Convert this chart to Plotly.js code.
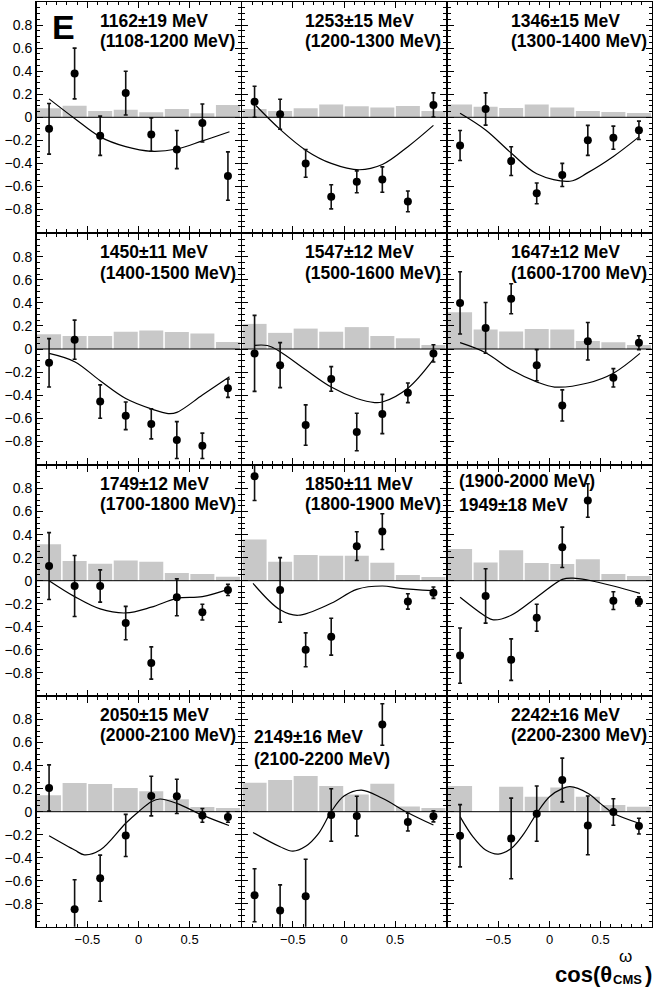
<!DOCTYPE html>
<html><head><meta charset="utf-8">
<script src="https://cdn.plot.ly/plotly-3.0.1.min.js"></script>
<style>html,body{margin:0;padding:0;background:#fff}#chart{width:654px;height:990px}</style>
</head><body><div id="chart"></div>
<script>
// ---- data ----
const cosBins = [-0.875, -0.625, -0.375, -0.125, 0.125, 0.375, 0.625, 0.875];

const massLabels = ["1162±19 MeV","1253±15 MeV","1346±15 MeV","1450±11 MeV","1547±12 MeV","1647±12 MeV",
                    "1749±12 MeV","1850±11 MeV","1949±18 MeV","2050±15 MeV","2149±16 MeV","2242±16 MeV"];
const rangeLabels = ["(1108-1200 MeV)","(1200-1300 MeV)","(1300-1400 MeV)","(1400-1500 MeV)","(1500-1600 MeV)","(1600-1700 MeV)",
                     "(1700-1800 MeV)","(1800-1900 MeV)","(1900-2000 MeV)","(2000-2100 MeV)","(2100-2200 MeV)","(2200-2300 MeV)"];

const asymE = [
  [-0.10, 0.38, -0.16, 0.21, -0.15, -0.28, -0.05, -0.51],
  [0.135, 0.026, -0.40, -0.69, -0.56, -0.54, -0.73, 0.107],
  [-0.245, 0.072, -0.38, -0.66, -0.50, -0.20, -0.177, -0.113],
  [-0.12, 0.081, -0.456, -0.58, -0.65, -0.79, -0.84, -0.34],
  [-0.038, -0.14, -0.66, -0.26, -0.72, -0.564, -0.38, -0.038],
  [0.40, 0.183, 0.436, -0.14, -0.49, 0.067, -0.25, 0.055],
  [0.127, -0.046, -0.046, -0.368, -0.714, -0.144, -0.273, -0.08],
  [0.906, -0.08, -0.60, -0.486, 0.30, 0.426, -0.18, -0.104],
  [-0.65, -0.132, -0.685, -0.322, 0.29, 0.696, -0.173, -0.18],
  [0.206, -0.846, -0.577, -0.206, 0.136, 0.133, -0.032, -0.046],
  [-0.725, -0.858, -0.733, -0.029, -0.038, 0.757, -0.09, -0.04],
  [-0.209, null, -0.232, -0.017, 0.275, -0.119, -0.003, -0.125]
];
const statErr = [
  [0.22, 0.22, 0.17, 0.19, 0.145, 0.165, 0.165, 0.21],
  [0.135, 0.13, 0.12, 0.105, 0.095, 0.11, 0.09, 0.105],
  [0.13, 0.14, 0.125, 0.09, 0.10, 0.13, 0.10, 0.08],
  [0.21, 0.17, 0.145, 0.12, 0.13, 0.16, 0.11, 0.08],
  [0.33, 0.195, 0.175, 0.107, 0.163, 0.17, 0.085, 0.075],
  [0.27, 0.22, 0.13, 0.135, 0.135, 0.163, 0.08, 0.06],
  [0.29, 0.265, 0.14, 0.145, 0.14, 0.16, 0.068, 0.048],
  [0.21, 0.28, 0.147, 0.16, 0.125, 0.155, 0.067, 0.049],
  [0.24, 0.236, 0.18, 0.117, 0.175, 0.146, 0.077, 0.04],
  [0.20, 0.256, 0.20, 0.183, 0.172, 0.148, 0.06, 0.045],
  [0.23, 0.223, 0.32, 0.228, 0.172, 0.18, 0.077, 0.048],
  [0.27, null, 0.35, 0.24, 0.19, 0.255, 0.115, 0.068]
];
const systErr = [
  [0.078, 0.10, 0.055, 0.066, 0.043, 0.072, 0.035, 0.107],
  [0.072, 0.055, 0.078, 0.11, 0.096, 0.084, 0.098, 0.055],
  [0.11, 0.092, 0.081, 0.11, 0.084, 0.055, 0.046, 0.037],
  [0.128, 0.113, 0.113, 0.15, 0.16, 0.148, 0.134, 0.061],
  [0.218, 0.14, 0.177, 0.15, 0.19, 0.113, 0.093, 0.035],
  [0.32, 0.169, 0.151, 0.174, 0.169, 0.07, 0.058, 0.035],
  [0.317, 0.17, 0.147, 0.176, 0.164, 0.066, 0.058, 0.035],
  [0.357, 0.164, 0.224, 0.216, 0.216, 0.155, 0.049, 0.032],
  [0.276, 0.158, 0.265, 0.153, 0.144, 0.187, 0.058, 0.04],
  [0.142, 0.249, 0.24, 0.206, 0.177, 0.107, 0.04, 0.032],
  [0.252, 0.275, 0.31, 0.223, 0.15, 0.243, 0.046, 0.032],
  [0.223, 0, 0.217, 0.13, 0.21, 0.13, 0.058, 0.043]
];
const fitX = [
  [-0.875, -0.625, -0.375, -0.125, 0.125, 0.375, 0.625, 0.89],
  [-0.86, -0.625, -0.375, -0.125, 0.15, 0.375, 0.625, 0.875],
  [-0.875, -0.625, -0.375, -0.125, 0.2, 0.375, 0.625, 0.875],
  [-0.875, -0.625, -0.375, -0.125, 0.125, 0.29, 0.375, 0.625, 0.89],
  [-0.875, -0.75, -0.625, -0.375, -0.125, 0.125, 0.3, 0.375, 0.625, 0.875],
  [-0.875, -0.625, -0.375, -0.125, 0.05, 0.375, 0.625, 0.885],
  [-0.875, -0.625, -0.375, -0.125, 0.125, 0.375, 0.625, 0.875],
  [-0.89, -0.625, -0.45, -0.125, 0.125, 0.375, 0.55, 0.875],
  [-0.875, -0.625, -0.55, -0.375, -0.125, 0.125, 0.23, 0.375, 0.625, 0.885],
  [-0.875, -0.625, -0.53, -0.375, -0.125, 0.0, 0.125, 0.21, 0.375, 0.625, 0.885],
  [-0.89, -0.625, -0.5, -0.375, -0.25, -0.125, 0.0, 0.17, 0.375, 0.625, 0.875],
  [-0.875, -0.75, -0.625, -0.5, -0.375, -0.25, -0.125, 0.0, 0.125, 0.2, 0.375, 0.5, 0.625, 0.875]
];
const fitY = [
  [0.16, -0.01, -0.17, -0.255, -0.295, -0.275, -0.205, -0.125],
  [0.10, -0.105, -0.285, -0.40, -0.455, -0.41, -0.255, -0.07],
  [0.035, -0.11, -0.31, -0.49, -0.555, -0.48, -0.34, -0.17],
  [-0.038, -0.11, -0.276, -0.43, -0.52, -0.56, -0.55, -0.40, -0.24],
  [0.032, 0.03, -0.023, -0.18, -0.33, -0.43, -0.465, -0.46, -0.34, -0.09],
  [0.055, -0.032, -0.18, -0.285, -0.33, -0.295, -0.21, -0.038],
  [0.0, -0.138, -0.245, -0.28, -0.23, -0.153, -0.138, -0.075],
  [-0.023, -0.253, -0.30, -0.196, -0.075, -0.046, -0.066, -0.086],
  [-0.144, -0.31, -0.34, -0.30, -0.144, 0.012, 0.023, 0.006, -0.046, -0.11],
  [-0.209, -0.333, -0.374, -0.333, -0.10, 0.0, 0.087, 0.11, 0.072, -0.03, -0.12],
  [-0.18, -0.304, -0.342, -0.30, -0.19, 0.0, 0.136, 0.188, 0.116, -0.009, -0.116],
  [-0.043, -0.217, -0.333, -0.368, -0.319, -0.19, -0.014, 0.13, 0.2, 0.217, 0.16, 0.07, -0.014, -0.10]
];

// ---- layout geometry (pixels) ----
const W = 654, H = 990;
const colX0 = [36.5, 242, 447.5], colW = 204;
const rowY0 = [2.3, 234, 465.7, 696.7], rowH = 230;
const FONT = "Liberation Sans, Arial, Helvetica, sans-serif";

const traces = [];
const layout = {
  width: W, height: H,
  margin: {l: 0, r: 0, t: 0, b: 0},
  paper_bgcolor: "#ffffff", plot_bgcolor: "#ffffff",
  showlegend: false, hovermode: false,
  font: {family: FONT, color: "#000"},
  annotations: [], shapes: []
};

function px2fx(p) { return p / W; }
function px2fy(p) { return 1 - p / H; }

for (let i = 0; i < 12; i++) {
  const r = Math.floor(i / 3), c = i % 3;
  const n = i === 0 ? "" : String(i + 1);
  const xa = "x" + n, ya = "y" + n;
  const x0 = colX0[c], x1 = x0 + colW;
  const yTop = rowY0[r], yBot = yTop + rowH;

  layout["xaxis" + n] = {
    domain: [px2fx(x0), px2fx(x1)], anchor: ya,
    range: [-0.998, 0.998], tick0: 0, dtick: 0.5,
    showline: true, linecolor: "#000", linewidth: 1.5, mirror: "ticks",
    ticks: "inside", ticklen: 6, tickwidth: 1, tickcolor: "#000",
    minor: {ticks: "inside", ticklen: 3, tickwidth: 1, tickcolor: "#000", dtick: 0.1, tick0: 0},
    showgrid: false, zeroline: false, fixedrange: true,
    showticklabels: r === 3,
    tickfont: {family: FONT, size: 13, color: "#000"}
  };
  layout["yaxis" + n] = {
    domain: [px2fy(yBot), px2fy(yTop)], anchor: xa,
    range: [-0.998, 0.998], tick0: 0, dtick: 0.2,
    showline: true, linecolor: "#000", linewidth: 1.5, mirror: "ticks",
    ticks: "inside", ticklen: 6, tickwidth: 1, tickcolor: "#000",
    minor: {ticks: "inside", ticklen: 3, tickwidth: 1, tickcolor: "#000", dtick: 0.05, tick0: 0},
    showgrid: false, zeroline: false, fixedrange: true,
    showticklabels: c === 0,
    tickfont: {family: FONT, size: 14, color: "#000"}
  };

  traces.push({
    type: "bar", x: cosBins, y: systErr[i], width: 0.235,
    marker: {color: "#c8c8c8", line: {width: 0}},
    xaxis: xa, yaxis: ya, hoverinfo: "skip"
  });
  traces.push({
    type: "scatter", mode: "lines", x: fitX[i], y: fitY[i],
    line: {color: "#000", width: 1.2, shape: "spline", smoothing: 1},
    xaxis: xa, yaxis: ya, hoverinfo: "skip"
  });
  traces.push({
    type: "scatter", mode: "markers", x: cosBins, y: asymE[i],
    error_y: {type: "data", array: statErr[i], visible: true, color: "#111", thickness: 1.6, width: 2},
    marker: {color: "#000", size: 8},
    xaxis: xa, yaxis: ya, hoverinfo: "skip"
  });

  layout.shapes.push({
    type: "line", xref: xa + " domain", x0: 0, x1: 1, yref: ya, y0: 0, y1: 0,
    line: {color: "#000", width: 1}, layer: "above"
  });

  // panel labels
  let dx = 61, dy1 = 18.5, dy2 = 38.7;
  let top = massLabels[i], bot = rangeLabels[i];
  if (i === 8) { dx = 9.5; dy1 = 15.6; dy2 = 38.8; top = rangeLabels[i]; bot = massLabels[i]; }
  if (i === 10) { dx = 9.5; dy1 = 40.3; dy2 = 62.6; }
  [[top, dy1], [bot, dy2]].forEach(([t, dy]) => {
    layout.annotations.push({
      xref: "paper", yref: "paper", x: px2fx(x0 + dx), y: px2fy(yTop + dy),
      xanchor: "left", yanchor: "middle", showarrow: false,
      text: "<b>" + t + "</b>", font: {family: FONT, size: 17.5, color: "#000"}
    });
  });
}

// big panel letter
layout.annotations.push({
  xref: "paper", yref: "paper", x: px2fx(50), y: px2fy(27),
  xanchor: "left", yanchor: "middle", showarrow: false,
  text: "<b>E</b>", font: {family: FONT, size: 34, color: "#000"}
});

// x axis title: cos(θ^ω_CMS)
layout.annotations.push({
  xref: "paper", yref: "paper", x: px2fx(614), y: px2fy(974.5),
  xanchor: "right", yanchor: "middle", showarrow: false,
  text: "<b>cos(θ</b>", font: {family: FONT, size: 22, color: "#000"}
});
layout.annotations.push({
  xref: "paper", yref: "paper", x: px2fx(611), y: px2fy(979.5),
  xanchor: "left", yanchor: "middle", showarrow: false,
  text: "<b>CMS</b>", font: {family: FONT, size: 13, color: "#000"}
});
layout.annotations.push({
  xref: "paper", yref: "paper", x: px2fx(617), y: px2fy(956),
  xanchor: "left", yanchor: "middle", showarrow: false,
  text: "ω", font: {family: FONT, size: 17, color: "#000"}
});
layout.annotations.push({
  xref: "paper", yref: "paper", x: px2fx(654), y: px2fy(974.5),
  xanchor: "right", yanchor: "middle", showarrow: false,
  text: "<b>)</b>", font: {family: FONT, size: 22, color: "#000"}
});

Plotly.newPlot("chart", traces, layout, {staticPlot: true, displayModeBar: false});
</script>
</body></html>
